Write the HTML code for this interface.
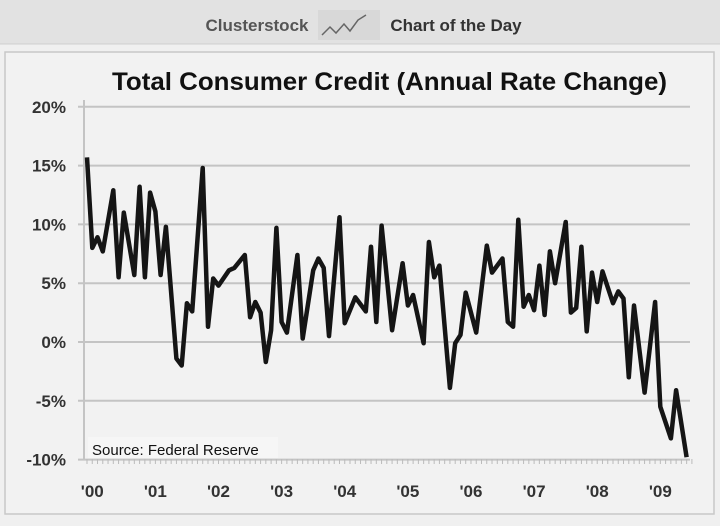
<!DOCTYPE html>
<html><head><meta charset="utf-8"><style>
body{margin:0;width:720px;height:521px;background:#f0f0f0;overflow:hidden;font-family:"Liberation Sans",sans-serif}
</style></head><body>
<svg width="720" height="521" xmlns="http://www.w3.org/2000/svg">
<rect x="0" y="0" width="720" height="521" fill="#f0f0f0"/>
<rect x="0" y="0" width="720" height="44" fill="#e2e2e2"/>
<line x1="0" y1="44" x2="720" y2="44" stroke="#cfcfcf"/>
<text x="257" y="31" text-anchor="middle" font-size="17" font-weight="bold" fill="#555">Clusterstock</text>
<rect x="318" y="10" width="62" height="30" fill="#d8d8d8"/>
<polyline points="322,35 330,27 336,33 344,24 350,31 358,20 366,15" fill="none" stroke="#666" stroke-width="1.5"/>
<text x="456" y="31" text-anchor="middle" font-size="17" font-weight="bold" fill="#333">Chart of the Day</text>
<rect x="5" y="52" width="709" height="462" fill="#f2f2f2" stroke="#c8c8c8" stroke-width="1.5"/>
<text x="112" y="90" textLength="555" lengthAdjust="spacingAndGlyphs" font-size="25" font-weight="bold" fill="#111">Total Consumer Credit (Annual Rate Change)</text>
<g id="grid"></g><g id="axes"></g><g id="series"></g>
<rect x="88" y="437" width="190" height="21" fill="#f6f6f6"/>
<text x="92" y="455" font-size="15" fill="#111">Source: Federal Reserve</text>
</svg>
<script>
const months=[0,1,2,3,5,6,7,9,10,11,12,13,14,15,17,18,19,20,22,23,24,25,27,28,30,31,32,33,34,35,36,37,38,40,41,43,44,45,46,48,49,51,53,54,55,56,58,60,61,62,64,65,66,67,69,70,71,72,74,76,77,79,80,81,82,83,84,85,86,87,88,89,91,92,93,94,95,96,97,98,100,101,102,103,104,106,108,109,111,112,114];
const values=[15.7,8.0,8.9,7.7,12.9,5.5,11.0,5.7,13.2,5.5,12.7,11.1,5.7,9.8,-1.4,-2.0,3.3,2.6,14.8,1.3,5.4,4.8,6.1,6.3,7.4,2.1,3.4,2.5,-1.7,1.0,9.7,1.7,0.8,7.4,0.3,6.1,7.1,6.3,0.5,10.6,1.6,3.8,2.6,8.1,1.7,9.9,1.0,6.7,3.1,4.0,-0.1,8.5,5.5,6.5,-3.9,-0.1,0.6,4.2,0.8,8.2,5.9,7.1,1.7,1.3,10.4,3.0,4.0,2.7,6.5,2.3,7.7,5.0,10.2,2.5,2.9,8.1,0.9,5.9,3.4,6.0,3.3,4.3,3.7,-3.0,3.1,-4.3,3.4,-5.5,-8.2,-4.1,-9.8];
const yTicks=[20,15,10,5,0,-5,-10];
const yTickLabels=["20%","15%","10%","5%","0%","-5%","-10%"];
const xLabels=["'00","'01","'02","'03","'04","'05","'06","'07","'08","'09"];
const NS="http://www.w3.org/2000/svg";
const X=m=>87+m*5.26;
const Y=v=>342-v*11.76;
function mk(tag,attrs,parent){const e=document.createElementNS(NS,tag);for(const k in attrs)e.setAttribute(k,attrs[k]);document.getElementById(parent).appendChild(e);return e;}
yTicks.forEach((t,i)=>{
  const l=mk('line',{x1:78,x2:690,y1:Y(t),y2:Y(t),stroke:'#c4c4c4','stroke-width':2},'grid');
  
  
  const tx=mk('text',{x:66,y:Y(t)+6,'text-anchor':'end','font-size':17,'font-weight':'bold',fill:'#333'},'axes');
  tx.textContent=yTickLabels[i];
  
  
});
const ax=mk('line',{x1:84,x2:84,y1:100,y2:460,stroke:'#c4c4c4','stroke-width':2},'axes');


for(let m=0;m<=115;m++){mk('line',{x1:X(m),x2:X(m),y1:459,y2:464,stroke:'#bbb','stroke-width':1},'axes');}
xLabels.forEach((s,i)=>{
  const tx=mk('text',{x:X(12*i+1),y:497,'text-anchor':'middle','font-size':17,'font-weight':'bold',fill:'#333'},'axes');
  tx.textContent=s;
  
  
});
const pts=months.map((m,i)=>X(m).toFixed(1)+','+Y(values[i]).toFixed(1)).join(' ');
const pl=mk('polyline',{points:pts,fill:'none',stroke:'#151515','stroke-width':4.5,'stroke-linejoin':'round'},'series');


</script>
</body></html>
